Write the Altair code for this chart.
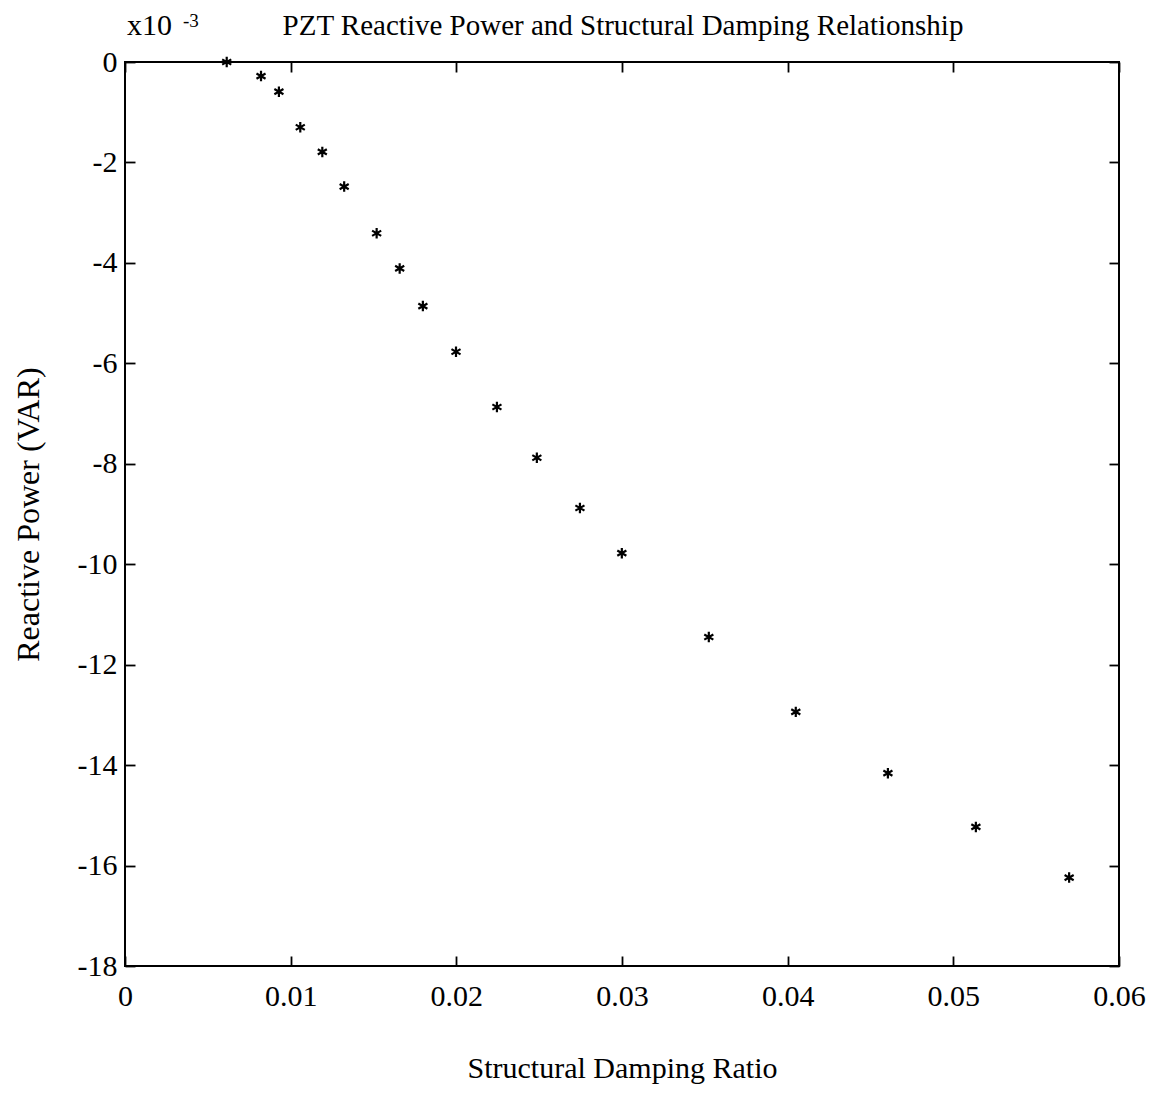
import altair as alt
import pandas as pd

# Structural damping ratio (x) and reactive power (y, in units of 1e-3 VAR)
damping = [0.00614, 0.00821, 0.00929, 0.01058, 0.01191, 0.01323, 0.01519, 0.01658,
           0.01798, 0.01998, 0.02245, 0.02486, 0.02746, 0.02999, 0.03524, 0.04049,
           0.04605, 0.05136, 0.05699]
reactive = [0.0, -0.28, -0.59, -1.30, -1.79, -2.48, -3.41, -4.11,
            -4.86, -5.77, -6.87, -7.88, -8.88, -9.78, -11.45, -12.94,
            -14.16, -15.23, -16.24]

x_ticks = [0, 0.01, 0.02, 0.03, 0.04, 0.05, 0.06]
y_ticks = [0, -2, -4, -6, -8, -10, -12, -14, -16, -18]

title_text = ["PZT Reactive Power and Structural Damping Relationship"]
exp_base = ["x10"]
exp_power = ["-3"]

df = pd.DataFrame({"damping": damping, "reactive": reactive})

FONT = "Liberation Serif"
STAR = "M0,-1L0,1M-0.866,-0.5L0.866,0.5M-0.866,0.5L0.866,-0.5"
TICK = 10

xs = alt.Scale(domain=[0, 0.06], nice=False, zero=False)
ys = alt.Scale(domain=[-18, 0], nice=False, zero=False)

base = alt.Chart(df)

points = base.mark_point(
    shape=STAR, filled=False, color="black", strokeWidth=2.2, size=110, opacity=1, clip=False
).encode(
    x=alt.X("damping:Q", scale=xs, axis=alt.Axis(
        values=x_ticks, title="Structural Damping Ratio", domain=False, ticks=False, grid=False,
        labelExpr="datum.value == 0 ? '0' : format(datum.value, '.2f')",
        labelPadding=15, labelFontSize=30, labelFont=FONT, labelColor="black",
        titleFontSize=30, titleFont=FONT, titleColor="black", titleFontWeight="normal",
        titlePadding=42, labelFlush=False)),
    y=alt.Y("reactive:Q", scale=ys, axis=alt.Axis(
        values=y_ticks, title="Reactive Power (VAR)", domain=False, ticks=False, grid=False,
        labelExpr="'' + datum.value",
        labelPadding=8, labelFontSize=30, labelFont=FONT, labelColor="black",
        titleFontSize=32, titleFont=FONT, titleColor="black", titleFontWeight="normal",
        titlePadding=32, labelFlush=False)),
)


def tick_layer(channel, orient):
    ax = alt.Axis(orient=orient, values=x_ticks if channel == "x" else y_ticks,
                  offset=-TICK, tickSize=TICK, labels=False, domain=False, title=None,
                  grid=False, tickColor="black", tickWidth=1.8)
    if channel == "x":
        enc = dict(x=alt.X("damping:Q", scale=xs, axis=ax),
                   y=alt.Y("reactive:Q", scale=ys, axis=None))
    else:
        enc = dict(x=alt.X("damping:Q", scale=xs, axis=None),
                   y=alt.Y("reactive:Q", scale=ys, axis=ax))
    return base.mark_point(opacity=0).encode(**enc)


title_mark = alt.Chart(pd.DataFrame({"t": title_text})).mark_text(
    font=FONT, fontSize=29, color="black", align="center", baseline="alphabetic"
).encode(text="t:N", x=alt.value(498), y=alt.value(-27))

exp_main = alt.Chart(pd.DataFrame({"t": exp_base})).mark_text(
    font=FONT, fontSize=30, color="black", align="left", baseline="alphabetic"
).encode(text="t:N", x=alt.value(2), y=alt.value(-27))

exp_sup = alt.Chart(pd.DataFrame({"t": exp_power})).mark_text(
    font=FONT, fontSize=19, color="black", align="left", baseline="alphabetic"
).encode(text="t:N", x=alt.value(58), y=alt.value(-35))

chart = alt.layer(
    points,
    tick_layer("x", "bottom"),
    tick_layer("x", "top"),
    tick_layer("y", "left"),
    tick_layer("y", "right"),
    title_mark,
    exp_main,
    exp_sup,
).resolve_axis(x="independent", y="independent").properties(
    width=994,
    height=904,
    autosize=alt.AutoSizeParams(type="none"),
    padding={"left": 117, "top": 54, "right": 29, "bottom": 127},
).configure(
    background="white",
    view=alt.ViewConfig(stroke="black", strokeWidth=2),
)

chart.save("out.html", embed_options={"renderer": "svg", "actions": False})
